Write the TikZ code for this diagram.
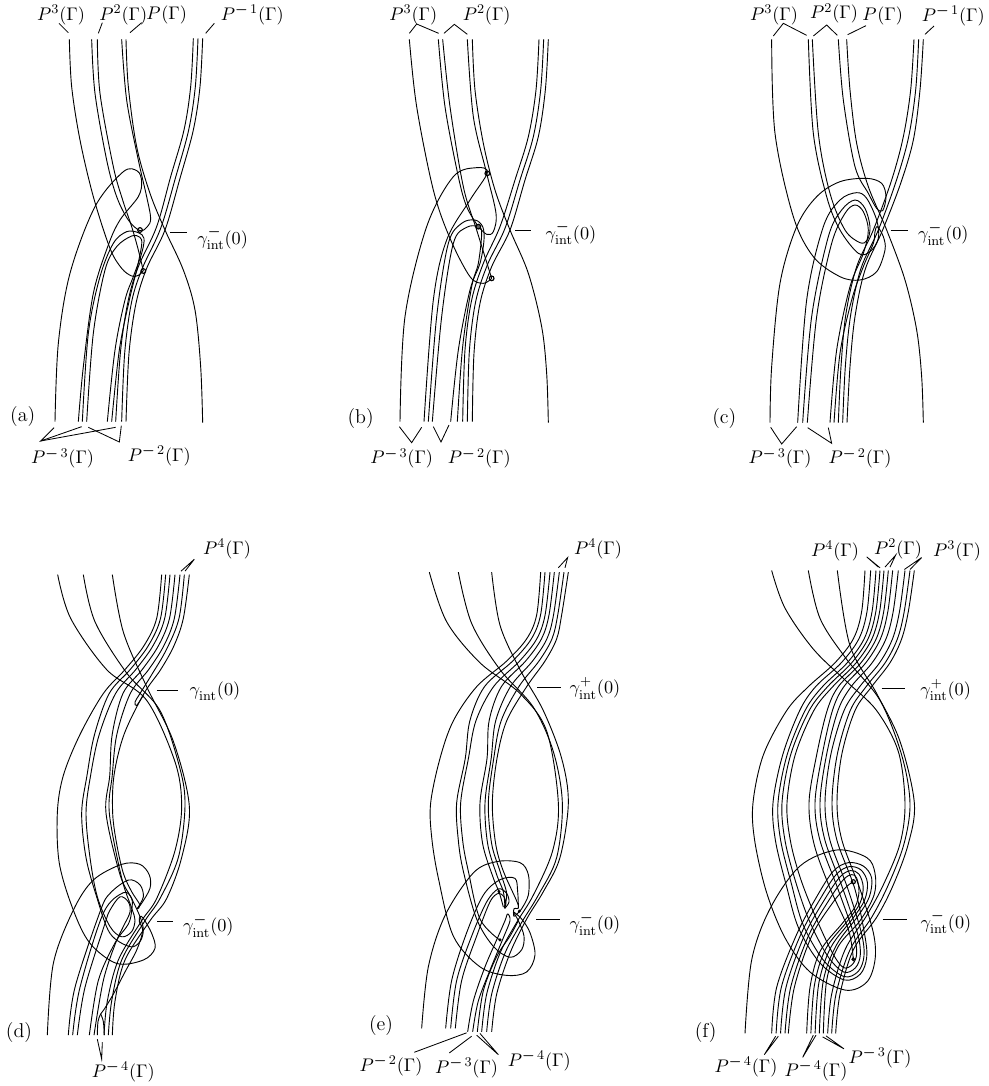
\documentclass[tikz,border=0pt]{standalone}
\usepackage{amsmath,amssymb}
\newcommand{\mn}{\boldsymbol{-}\,}
\newcommand{\gam}[1]{$\gamma^{#1}_{\mathrm{int}}(0)$}
\newcommand{\pg}[1]{$P^{#1}(\Gamma)$}
\tikzset{
  cv/.style={line width=0.55pt,line join=round},
  ldr/.style={line width=0.5pt},
  lbl/.style={inner sep=0pt,font=\fontsize{10.95}{13}\selectfont},
  tag/.style={inner sep=0pt,font=\large},
  dotopen/.style={line width=0.7pt},
  panel/.style={x=0.2pt,y=-0.2pt},
  panelb/.style={x=0.2pt,y=-0.205pt}
}
\newcommand{\cv}[1]{\draw[cv] plot[smooth,tension=.55] coordinates {#1};}
\newcommand{\ld}[3]{\coordinate (#1s) at #2; \coordinate (#1e) at #3; \draw[ldr] (#1s) -- (#1e);}
\newcommand{\ldd}[4]{\coordinate (#1s) at #2; \coordinate (#1m) at #3; \coordinate (#1e) at #4; \draw[ldr] (#1s) -- (#1m) -- (#1e);}
% strands from the top group to the mid-left group
\newcommand{\setA}[3]{\def\pYz{#1}\def\pAz{#2}\def\pAo{#3}}
\newcommand{\setR}[4]{\expandafter\def\csname pY#1\endcsname{#2}\expandafter\def\csname pO#1\endcsname{#3}\expandafter\def\csname pI#1\endcsname{#4}}
\newcommand{\mk}[2]{%
 \pgfmathsetmacro\uu{(#1-\pAz)/(\pAo-\pAz)}%
 \pgfmathsetmacro\xa{\pOa+(\pIa-\pOa)*\uu}%
 \pgfmathsetmacro\xb{\pOb+(\pIb-\pOb)*\uu}%
 \pgfmathsetmacro\xc{\pOc+(\pIc-\pOc)*\uu}%
 \pgfmathsetmacro\xd{\pOd+(\pId-\pOd)*\uu}%
 \pgfmathsetmacro\xe{0.5*(\pOe+(\pIe-\pOe)*\uu)+0.5*(#2+\pOe-\pOm+((\pIe-\pIm)-(\pOe-\pOm))*\uu)}%
 \pgfmathsetmacro\xf{#2+\pOf-\pOm+((\pIf-\pIm)-(\pOf-\pOm))*\uu}%
 \edef\fw{(#1,\pYz)(\xa,\pYa)(\xb,\pYb)(\xc,\pYc)(\xd,\pYd)(\xe,\pYe)(\xf,\pYf)(#2,\pYm)}%
 \edef\bw{(#2,\pYm)(\xf,\pYf)(\xe,\pYe)(\xd,\pYd)(\xc,\pYc)(\xb,\pYb)(\xa,\pYa)(#1,\pYz)}%
}
\newcommand{\hp}[5]{\mk{#1}{#2}\let\fwA\fw\mk{#4}{#5}\let\bwB\bw\edef\full{\fwA #3\bwB}\expandafter\cv\expandafter{\full}}
\newcommand{\sg}[3]{\mk{#1}{#2}\edef\full{\fw #3}\expandafter\cv\expandafter{\full}}
\begin{document}
\begin{tikzpicture}
\useasboundingbox (0,0) rectangle (592.8pt,-651.6pt);
% ---------- (a)
\begin{scope}[panel]
\cv{(208,118)(215,260)(240,420)(280,590)(330,745)(365,805)(395,828)(415,826)(430,812)}
\cv{(275,118)(285,280)(320,480)(350,590)(385,660)(420,692)(442,680)(452,655)(440,590)(415,480)(380,300)(365,118)}
\cv{(292,118)(300,280)(340,500)(368,600)(395,680)(415,750)(430,813)}
\cv{(378,118)(385,260)(410,440)(450,580)(495,690)(550,810)(585,930)(602,1100)(608,1268)}
\cv{(165,1265)(175,1030)(210,820)(285,620)(370,515)(412,513)(425,545)(415,590)(360,660)(325,735)(280,880)(250,1100)(235,1265)}
\cv{(247,1265)(265,1000)(300,830)(340,730)(380,695)(415,698)(432,715)(425,760)(400,830)(375,900)(345,1050)(322,1265)}
\cv{(260,1265)(280,1000)(315,810)(350,740)(395,708)(420,712)(425,735)(410,810)(388,900)(358,1050)(335,1265)}
\cv{(580,115)(572,260)(552,390)(512,530)(470,680)(415,800)(385,900)(362,1050)(347,1265)}
\cv{(594,115)(586,260)(566,390)(526,535)(482,685)(427,805)(395,905)(374,1060)(365,1265)}
\cv{(608,115)(600,260)(580,390)(540,535)(495,690)(440,805)(408,910)(387,1060)(378,1265)}
\draw[dotopen] (420,690) circle (7);
\draw[dotopen] (430,813) circle (7);
\node[lbl] (a1) at (183,45) {\pg{3}};
\node[lbl] (a2) at (370,45) {\pg{2}};
\node[lbl] (a3) at (500,45) {\pg{}};
\node[lbl] (a4) at (757,45) {\pg{\mn 1}};
\node[lbl] (a5) at (668,715) {\gam{\mn}};
\node[tag] (a6) at (68,1250) {(a)};
\node[lbl] (a7) at (188,1375) {\pg{\mn 3}};
\node[lbl] (a8) at (478,1368) {\pg{\mn 2}};
\ld{aa}{(177,70)}{(205,98)}\ld{ab}{(307,68)}{(295,100)}\ld{ac}{(425,68)}{(390,98)}\ld{ad}{(643,70)}{(617,100)}
\ld{ae}{(510,697)}{(562,697)}
\ldd{af}{(162,1283)}{(122,1323)}{(245,1280)}
\ld{ag}{(122,1323)}{(347,1282)}
\ldd{ah}{(265,1282)}{(358,1326)}{(364,1277)}
\end{scope}
% ---------- (b)
\begin{scope}[shift={(198pt,0pt)},panel]
\cv{(427,118)(435,270)(460,430)(495,570)(540,690)(595,820)(635,980)(650,1120)(655,1268)}
\cv{(325,118)(345,320)(385,530)(410,620)(445,680)}
\cv{(412,118)(430,350)(470,520)(498,640)(490,695)(470,703)(445,680)}
\cv{(338,118)(360,320)(400,560)(440,690)(485,835)}
\cv{(238,118)(260,320)(310,570)(360,715)(420,830)(460,850)(485,835)}
\cv{(210,1265)(225,950)(290,680)(370,530)(440,503)(472,518)(420,600)(350,720)(310,900)(282,1265)}
\cv{(295,1265)(320,950)(355,730)(395,670)(435,660)(458,680)(462,720)(450,790)(420,870)(385,1050)(362,1265)}
\cv{(307,1265)(335,950)(370,730)(410,682)(445,680)(455,700)(445,790)(425,860)(398,1040)(382,1265)}
\cv{(627,118)(618,270)(595,410)(555,540)(510,680)(460,790)(425,900)(405,1050)(398,1265)}
\cv{(641,118)(632,270)(610,410)(570,540)(525,685)(472,795)(437,905)(418,1055)(412,1265)}
\cv{(655,118)(646,270)(625,410)(585,540)(540,690)(485,800)(450,910)(432,1060)(427,1265)}
\draw[dotopen] (472,520) circle (7);
\draw[dotopen,fill=black!60] (445,680) circle (7);
\draw[dotopen] (485,835) circle (7);
\node[lbl] (b1) at (250,45) {\pg{3}};
\node[lbl] (b2) at (470,45) {\pg{2}};
\node[lbl] (b3) at (723,700) {\gam{\mn}};
\node[tag] (b4) at (92,1255) {(b)};
\node[lbl] (b5) at (215,1375) {\pg{\mn 3}};
\node[lbl] (b6) at (448,1375) {\pg{\mn 2}};
\ldd{ba}{(238,100)}{(260,72)}{(326,100)}
\ldd{bb}{(342,100)}{(373,73)}{(412,103)}
\ldd{bc}{(208,1280)}{(245,1328)}{(275,1282)}
\ldd{bd}{(310,1280)}{(333,1326)}{(357,1275)}
\ld{be}{(555,692)}{(603,692)}
\end{scope}
% ---------- (c)
\begin{scope}[shift={(396pt,0pt)},panel]
\cv{(560,118)(570,270)(590,430)(625,560)(680,690)(735,840)(770,990)(785,1130)(790,1268)}
\cv{(535,118)(550,300)(585,500)(625,580)(650,625)(668,632)(678,590)(665,550)(620,535)(540,545)(470,590)(410,680)(360,850)(335,1100)(330,1268)}
\cv{(335,118)(345,400)(400,650)(460,770)(540,830)(600,840)(650,815)(675,750)(670,710)(652,680)(645,695)(640,730)(610,800)(575,900)(540,1060)(522,1268)}
\cv{(445,118)(460,400)(500,590)(540,690)(595,760)(630,755)(655,715)(650,660)(620,595)(590,578)(540,600)(490,680)(440,900)(413,1268)}
\cv{(457,118)(475,400)(510,580)(555,690)(600,728)(622,720)(630,680)(615,625)(585,600)(545,630)(505,710)(455,950)(428,1268)}
\cv{(442,1268)(470,950)(515,730)(555,640)(585,615)(610,635)(625,690)(610,760)(570,860)(530,1050)(510,1268)}
\cv{(762,118)(752,270)(730,410)(695,540)(640,690)(590,800)(558,940)(543,1100)(535,1268)}
\cv{(776,118)(767,270)(745,415)(708,545)(655,690)(603,805)(572,945)(556,1100)(548,1268)}
\cv{(790,118)(780,270)(760,420)(722,550)(668,690)(615,810)(585,950)(570,1100)(561,1268)}
\node[lbl] (c1) at (342,45) {\pg{3}};
\node[lbl] (c2) at (522,40) {\pg{2}};
\node[lbl] (c3) at (668,48) {\pg{}};
\node[lbl] (c4) at (880,48) {\pg{\mn 1}};
\node[lbl] (c5) at (850,702) {\gam{\mn}};
\node[tag] (c6) at (193,1255) {(c)};
\node[lbl] (c7) at (360,1375) {\pg{\mn 3}};
\node[lbl] (c8) at (600,1375) {\pg{\mn 2}};
\ldd{ca}{(340,108)}{(370,70)}{(440,106)}
\ldd{cb}{(460,108)}{(500,75)}{(532,106)}
\ld{cc}{(563,104)}{(618,77)}
\ld{cd}{(822,78)}{(795,103)}
\ldd{ce}{(332,1282)}{(365,1332)}{(410,1280)}
\ldd{cf}{(443,1283)}{(515,1330)}{(505,1283)}
\ld{cg}{(692,692)}{(745,692)}
\end{scope}
% ---------- (d)
\begin{scope}[shift={(0pt,-330pt)},panelb]
\setA{72}{485}{568}
\setR{a}{200}{470}{550}\setR{b}{280}{432}{522}\setR{c}{350}{375}{482}\setR{d}{420}{310}{432}
\setR{e}{540}{240}{372}\setR{f}{660}{190}{342}\setR{m}{770}{172}{338}
\sg{568}{338}{(350,860)(370,946)(395,1000)(420,1039)(412,1050)(425,1034)(450,990)(448,951)(420,920)(365,920)(280,966)(220,1054)(160,1210)(142,1420)}
\hp{510}{258}{(270,900)(292,1015)(330,1102)(365,1132)(395,1117)(405,1083)(395,1048)(365,960)}{540}{328}
\hp{497}{245}{(258,900)(290,1015)(330,1122)(390,1161)(420,1146)(430,1112)(420,1073)(395,1020)(360,950)}{525}{318}
\sg{485}{172}{(178,917)(220,1054)(270,1151)(350,1210)(430,1200)(465,1166)(455,1122)(430,1078)(420,1073)(418,1088)(428,1115)(410,1171)(375,1235)(340,1300)(312,1345)(302,1358)(294,1380)(292,1420)}
\cv{(553,72)(537,200)(500,290)(455,365)(420,420)(405,445)(410,455)(430,425)}
\cv{(337,72)(370,240)(440,400)(520,560)(568,750)(545,900)(500,1020)(450,1085)(375,1200)(345,1320)(337,1420)}
\cv{(250,72)(285,210)(380,360)(480,470)(540,640)(555,750)(535,900)(480,1020)(435,1085)(365,1200)(335,1320)(325,1420)}
\cv{(173,72)(212,200)(320,350)(440,440)(525,620)(545,750)(525,880)(470,1020)(425,1085)(355,1200)(322,1320)(312,1420)}
\cv{(205,1420)(225,1280)(300,1059)(330,1005)(385,966)(420,980)(430,1015)(412,1049)}
\cv{(218,1420)(240,1280)(310,1063)(370,1003)(395,1020)(395,1055)(385,1095)(345,1150)(295,1260)(268,1420)}
\cv{(232,1420)(255,1280)(315,1093)(330,1054)(360,1015)(385,1030)(390,1060)(370,1102)(345,1155)(310,1260)(282,1420)}
\cv{(302,1358)(310,1380)(313,1420)}
\node[lbl] (d1) at (681,-3) {\pg{4}};
\node[lbl] (d2) at (645,412) {\gam{}};
\node[lbl] (d3) at (625,1100) {\gam{\mn}};
\node[tag] (d4) at (57,1412) {(d)};
\node[lbl] (d5) at (370,1527) {\pg{\mn 4}};
\ldd{da}{(543,62)}{(583,27)}{(555,62)}
\ld{db}{(470,412)}{(533,412)}
\ld{dc}{(472,1087)}{(520,1087)}
\ldd{dd}{(292,1432)}{(305,1490)}{(307,1440)}
\end{scope}
% ---------- (e)
\begin{scope}[shift={(198pt,-330pt)},panelb]
\setA{65}{632}{715}
\setR{a}{190}{620}{695}\setR{b}{260}{590}{680}\setR{c}{325}{530}{645}\setR{d}{400}{440}{590}
\setR{e}{500}{370}{530}\setR{f}{610}{330}{501}\setR{m}{740}{302}{487}
\sg{715}{487}{(497,860)(520,940)(565,1040)(552,1050)(552,1072)(568,1058)}
\sg{632}{302}{(305,840)(325,960)(370,1130)(450,1220)(530,1245)(590,1235)(615,1185)(600,1120)(575,1080)(552,1060)}
\sg{645}{380}{(385,850)(400,940)(440,1080)(490,1160)(540,1192)(575,1170)(582,1130)(565,1085)(550,1060)}
\sg{660}{392}{(398,850)(415,940)(450,1080)(510,1142)}
\sg{673}{450}{(458,860)(490,960)(507,1000)(520,1045)}
\sg{688}{465}{(473,860)(500,950)(520,1000)(525,1050)}
\sg{702}{475}{(485,860)(510,940)(530,1005)(523,1045)}
\cv{(485,65)(510,220)(570,350)(640,470)(695,610)(715,740)(690,900)(640,1000)(590,1080)(540,1180)(500,1300)(485,1410)}
\cv{(385,65)(425,215)(510,350)(610,460)(670,590)(697,740)(680,900)(625,1010)(575,1090)(525,1180)(485,1300)(470,1410)}
\cv{(298,65)(350,210)(450,330)(570,420)(650,530)(685,740)(668,880)(610,1010)(560,1090)(510,1180)(470,1300)(455,1410)}
\cv{(275,1400)(295,1220)(345,1070)(430,945)(500,912)(570,915)(595,950)(595,1010)(575,1050)(568,1058)}
\cv{(347,1400)(365,1260)(410,1120)(460,1010)(510,965)(555,961)(563,1000)(565,1039)}
\cv{(362,1400)(380,1260)(425,1130)(470,1030)(505,992)(530,1005)(537,1030)(525,1048)}
\cv{(376,1400)(395,1260)(440,1130)(480,1030)(505,1005)(522,1015)(528,1035)(523,1048)}
\cv{(413,1410)(430,1320)(465,1220)(505,1130)(525,1085)(533,1065)(540,1085)(520,1135)(482,1225)(445,1320)(428,1410)}
\cv{(442,1410)(460,1290)(500,1190)(540,1130)(565,1085)}
\fill (507,1000) circle (5);\fill (510,1141) circle (5);\fill (568,1057) circle (5);
\node[lbl] (e1) at (804,-3) {\pg{4}};
\node[lbl] (e2) at (795,405) {\gam{+}};
\node[lbl] (e3) at (795,1095) {\gam{\mn}};
\node[tag] (e4) at (153,1393) {(e)};
\node[lbl] (e5) at (183,1510) {\pg{\mn 2}};
\node[lbl] (e6) at (410,1515) {\pg{\mn 3}};
\node[lbl] (e7) at (628,1495) {\pg{\mn 4}};
\ldd{ea}{(685,52)}{(713,22)}{(705,52)}
\ld{eb}{(622,402)}{(693,402)}
\ld{ec}{(618,1082)}{(690,1082)}
\ld{ed}{(410,1413)}{(253,1470)}
\ld{ee}{(425,1423)}{(358,1472)}
\ldd{ef}{(440,1420)}{(505,1477)}{(450,1415)}
\end{scope}
% ---------- (f)
\begin{scope}[shift={(396pt,-330pt)},panelb]
\setA{60}{615}{763}
\setR{a}{180}{605}{745}\setR{b}{260}{580}{725}\setR{c}{330}{525}{690}\setR{d}{400}{445}{635}
\setR{e}{470}{380}{585}\setR{f}{600}{310}{545}\setR{m}{740}{279}{531}
\cv{(532,60)(570,280)(650,420)(720,560)(763,740)(745,860)(700,980)(650,1075)(580,1170)(540,1300)(527,1415)}
\cv{(445,60)(480,200)(560,320)(660,440)(725,600)(750,740)(732,860)(685,980)(635,1075)(570,1170)(528,1300)(515,1415)}
\cv{(335,60)(375,170)(460,290)(560,385)(650,470)(715,590)(735,740)(720,860)(670,980)(620,1070)(555,1170)(515,1300)(503,1415)}
% outermost upper lobe
\cv{(255,1415)(275,1200)(330,1050)(420,925)(530,878)(620,900)(645,946)(642,1010)(600,1085)(535,1160)(500,1260)(490,1415)}
% upper lobes
\foreach \t in {0,.3333,.6667,1}{
 \cv{({335+40*\t},1415)({350+42*\t},1280)({410+35*\t},{1125+5*\t})({470+40*\t},{1015+5*\t})({520+30*\t},{940+25*\t})({565+10*\t},{915+35*\t})({610-20*\t},{925+35*\t})({635-38*\t},{960+40*\t})({628-43*\t},{1015+30*\t})({595-50*\t},{1070+25*\t})({530-50*\t},{1155+20*\t})({490-40*\t},{1260+20*\t})({478-38*\t},1415)}
}
\cv{(385,1415)(403,1280)(455,1130)(520,1030)(560,985)(580,971)}
% lower lobes joined to the top strands
\foreach \t/\al/\l/\ar/\r in {0/615/279/763/531,.45/632/339/750/516,.6/648/354/735/495,.8/660/366/715/480,1/672/381/698/465}{
 \hp{\al}{\l}{({\l+5+5*\t},850)({\l+40},{1000-40*\t})({375+90*\t},{1135-65*\t})({450+65*\t},{1235-60*\t})({555-5*\t},{1288-66*\t})({620-42*\t},{1265-53*\t})({645-55*\t},{1200-20*\t})({640-60*\t},1120)({\r+68},990)({\r+15},850)}{\ar}{\r}
}
\sg{685}{447}{(462,860)(510,990)(565,1110)(580,1198)}
\draw[dotopen] (580,971) circle (6);
\draw[dotopen,fill=black!60] (580,1198) circle (4);
\node[lbl] (f1) at (525,3) {\pg{4}};
\node[lbl] (f2) at (714,-3) {\pg{2}};
\node[lbl] (f3) at (891,3) {\pg{3}};
\node[lbl] (f4) at (857,410) {\gam{+}};
\node[lbl] (f5) at (858,1090) {\gam{\mn}};
\node[tag] (f6) at (137,1413) {(f)};
\node[lbl] (f7) at (258,1512) {\pg{\mn 4}};
\node[lbl] (f8) at (468,1525) {\pg{\mn 4}};
\node[lbl] (f9) at (660,1487) {\pg{\mn 3}};
\ldd{fa}{(655,50)}{(620,20)}{(660,52)}
\ldd{fb}{(675,50)}{(707,15)}{(690,50)}
\ldd{fc}{(733,57)}{(785,22)}{(750,57)}
\ld{fd}{(665,405)}{(735,405)}
\ld{fe}{(668,1080)}{(740,1080)}
\ldd{ff}{(355,1423)}{(313,1477)}{(347,1423)}
\ldd{fg}{(468,1420)}{(428,1485)}{(460,1420)}
\ldd{fh}{(488,1425)}{(552,1460)}{(498,1422)}
\end{scope}
\end{tikzpicture}
\end{document}
